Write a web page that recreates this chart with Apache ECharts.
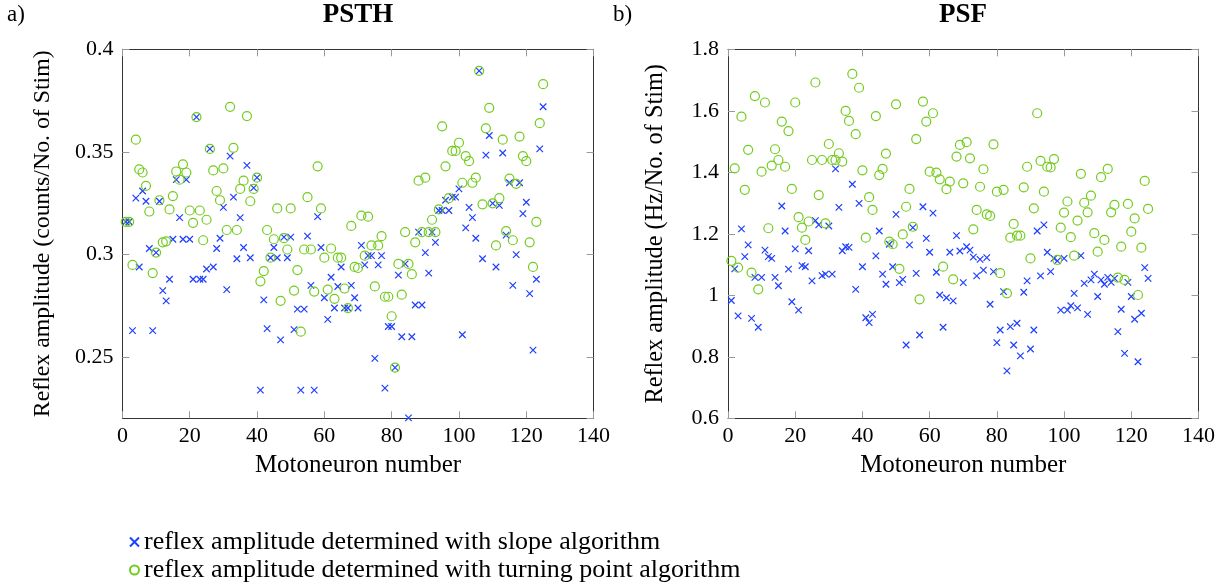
<!DOCTYPE html>
<html>
<head>
<meta charset="utf-8">
<script src="https://cdn.jsdelivr.net/npm/echarts@6/dist/echarts.min.js"></script>
<style>
html,body{margin:0;padding:0;background:#fff;}
#chart{width:1227px;height:587px;}
</style>
</head>
<body>
<div id="chart"></div>
<script>
// ---- data (motoneuron 1..125) ----
const neuronCount = 125;
const xTickValues = [0, 20, 40, 60, 80, 100, 120, 140];
const psthTicks = [0.25, 0.3, 0.35, 0.4];
const psfTicks = [0.6, 0.8, 1, 1.2, 1.4, 1.6, 1.8];

const psthSlope = [0.316,0.316,0.263,0.3275,0.294,0.331,0.326,0.303,0.263,0.301,
0.326,0.2825,0.2775,0.288,0.3075,0.3365,0.318,0.3075,0.3365,0.3075,
0.288,0.367,0.288,0.288,0.293,0.3515,0.294,0.303,0.308,0.323,
0.283,0.348,0.328,0.298,0.318,0.3035,0.3435,0.2985,0.3325,0.3375,
0.234,0.278,0.264,0.2985,0.3035,0.2985,0.2585,0.3085,0.2985,0.3085,
0.2635,0.2735,0.234,0.2735,0.309,0.285,0.234,0.3185,0.3035,0.279,
0.2685,0.289,0.274,0.2845,0.294,0.274,0.274,0.285,0.279,0.274,
0.3045,0.295,0.2995,0.2995,0.2495,0.295,0.2995,0.235,0.265,0.265,
0.245,0.290,0.260,0.2955,0.2205,0.260,0.2755,0.311,0.2755,0.301,
0.291,0.311,0.306,0.3215,0.3215,0.3265,0.3215,0.328,0.328,0.332,
0.261,0.313,0.323,0.318,0.308,0.3895,0.298,0.3485,0.358,0.325,
0.294,0.324,0.3495,0.3095,0.335,0.285,0.300,0.335,0.320,0.3255,
0.281,0.2535,0.288,0.3515,0.372];

const psthTurning = [0.316,0.316,0.295,0.356,0.3415,0.340,0.3335,0.321,0.291,0.301,
0.3265,0.306,0.3065,0.322,0.3285,0.3405,0.3365,0.344,0.340,0.3215,
0.3155,0.367,0.3215,0.307,0.317,0.3515,0.341,0.331,0.3265,0.342,
0.312,0.372,0.352,0.312,0.332,0.336,0.3675,0.326,0.332,0.3375,
0.287,0.292,0.312,0.2985,0.3075,0.3225,0.2775,0.308,0.3025,0.3225,
0.2825,0.2925,0.2625,0.3025,0.328,0.3025,0.282,0.343,0.3225,0.2985,
0.283,0.303,0.2785,0.2985,0.2985,0.2835,0.274,0.314,0.294,0.2935,
0.319,0.2995,0.3185,0.3045,0.2845,0.3045,0.309,0.2795,0.2795,0.270,
0.245,0.2955,0.2805,0.311,0.2955,0.2905,0.306,0.336,0.311,0.3375,
0.311,0.317,0.311,0.322,0.3625,0.343,0.3275,0.3505,0.3505,0.3545,
0.335,0.348,0.3455,0.335,0.3375,0.3895,0.3245,0.3615,0.3715,0.325,
0.3045,0.3275,0.356,0.3115,0.337,0.307,0.3345,0.3575,0.348,0.3455,
0.306,0.294,0.316,0.364,0.383];

const psfSlope = [0.983,1.086,0.933,1.216,1.126,1.164,0.925,1.0585,0.896,1.0585,
1.147,1.126,1.120,1.0585,1.031,1.2905,1.209,1.085,0.979,1.151,
0.952,1.0965,1.093,1.145,1.047,1.243,1.229,1.064,1.069,1.2255,
1.069,1.411,1.286,1.145,1.158,1.156,1.361,1.0195,1.299,1.093,
0.927,0.911,0.938,1.128,1.209,1.069,1.036,1.166,1.093,1.263,
1.041,1.052,0.8385,1.164,1.220,1.0715,0.871,1.288,1.185,1.140,
1.267,1.075,1.001,0.896,0.992,1.140,0.982,1.194,1.144,1.041,
1.158,1.147,1.124,1.063,1.117,1.082,1.1225,0.971,1.077,0.846,
0.887,1.012,0.754,0.898,0.8385,0.909,0.803,1.010,1.047,0.8255,
0.887,1.209,1.063,1.229,1.140,1.077,1.120,1.112,0.952,1.120,
0.952,0.966,1.0065,0.959,1.129,1.039,0.938,1.050,1.069,0.996,
1.050,1.036,1.0585,1.042,1.055,0.882,0.9545,0.811,1.042,0.996,
0.922,0.784,0.9415,1.090,1.055];

const psfTurning = [1.112,1.413,1.090,1.581,1.343,1.473,1.074,1.648,1.0195,1.402,
1.627,1.218,1.422,1.475,1.440,1.565,1.418,1.534,1.346,1.627,
1.254,1.220,1.180,1.240,1.440,1.692,1.326,1.440,1.234,1.492,
1.440,1.440,1.462,1.435,1.5995,1.567,1.720,1.524,1.675,1.4065,
1.1875,1.319,1.2775,1.583,1.391,1.411,1.461,1.1745,1.166,1.621,
1.086,1.198,1.288,1.346,1.223,1.508,0.987,1.630,1.565,1.402,
1.592,1.399,1.377,1.093,1.345,1.370,1.052,1.451,1.489,1.364,
1.498,1.4455,1.2146,1.2775,1.353,1.410,1.263,1.258,1.491,1.337,
1.072,1.343,1.0065,1.1875,1.232,1.194,1.194,1.351,1.418,1.120,
1.283,1.592,1.437,1.337,1.418,1.416,1.443,1.115,1.220,1.269,
1.305,1.189,1.129,1.243,1.395,1.301,1.270,1.324,1.202,1.142,
1.384,1.180,1.411,1.270,1.294,1.0575,1.158,1.050,1.297,1.207,
1.250,1.001,1.155,1.372,1.281];

const seriesNames = ['reflex amplitude determined with slope algorithm',
                     'reflex amplitude determined with turning point algorithm'];
const panelTitles = ['PSTH', 'PSF'];
const panelLetters = ['a)', 'b)'];
const yNames = ['Reflex amplitude (counts/No. of Stim)', 'Reflex amplitude (Hz/No. of Stim)'];
const xName = 'Motoneuron number';

// ---- build ----
const neurons = [];
for (let i = 1; i <= neuronCount; i++) neurons.push(i);
const zip = (ys) => ys.map((y, i) => [neurons[i], y]);

const FONT = 'Liberation Serif';
const BLUE = '#1f3fff';
const GREEN = '#72cc1e';
const AXIS = '#333';
const TICK = '#9a9a9a';
const crossPath = 'path://M0,0L10,10M10,0L0,10';

const grids = [
  {left: 122.4, top: 49.3, width: 471.2, height: 369},
  {left: 728, top: 49.3, width: 470.5, height: 369}
];

function xAx(gi, pos) {
  const main = pos === 'bottom';
  return {
    type: 'value', gridIndex: gi, position: pos, min: 0, max: 140, interval: 20,
    name: main ? xName : '', nameLocation: 'middle', nameGap: 35,
    nameTextStyle: {fontFamily: FONT, fontSize: 25, color: '#000'},
    axisLine: {show: true, onZero: false, lineStyle: {color: AXIS, width: 1}},
    axisTick: {show: true, inside: true, length: 7, lineStyle: {color: TICK, width: 1}},
    axisLabel: {show: main, fontFamily: FONT, fontSize: 22, color: '#000', margin: 7},
    splitLine: {show: false}
  };
}
function yAx(gi, pos, cfg) {
  const main = pos === 'left';
  return Object.assign({
    type: 'value', gridIndex: gi, position: pos,
    name: main ? yNames[gi] : '', nameLocation: 'middle', nameGap: gi === 0 ? 68 : 60,
    nameTextStyle: {fontFamily: FONT, fontSize: gi === 0 ? 23.8 : 24.3, color: '#000'},
    axisLine: {show: true, onZero: false, lineStyle: {color: AXIS, width: 1}},
    axisTick: {show: true, inside: true, length: 7, lineStyle: {color: TICK, width: 1}},
    axisLabel: {show: main, fontFamily: FONT, fontSize: 22, color: '#000', margin: 9, showMinLabel: gi === 1},
    splitLine: {show: false}
  }, cfg);
}
const psthRange = {min: 0.2203, max: 0.4, splitNumber: 4};
const psfRange = {min: 0.6, max: 1.8, interval: 0.2};

function slopeSeries(xi, yi, ys) {
  return {
    name: seriesNames[0], type: 'scatter', xAxisIndex: xi, yAxisIndex: yi, data: zip(ys),
    symbol: crossPath, symbolSize: 6.5, z: 2,
    itemStyle: {color: BLUE, borderColor: BLUE, borderWidth: 1.2, opacity: 1}
  };
}
function turnSeries(xi, yi, ys) {
  return {
    name: seriesNames[1], type: 'scatter', xAxisIndex: xi, yAxisIndex: yi, data: zip(ys),
    symbol: 'circle', symbolSize: 9, z: 3,
    itemStyle: {color: 'rgba(0,0,0,0)', borderColor: GREEN, borderWidth: 1.2, opacity: 1}
  };
}

const option = {
  backgroundColor: '#fff',
  animation: false,
  grid: grids,
  xAxis: [xAx(0, 'bottom'), xAx(0, 'top'), xAx(1, 'bottom'), xAx(1, 'top')],
  yAxis: [yAx(0, 'left', psthRange), yAx(0, 'right', psthRange),
          yAx(1, 'left', psfRange), yAx(1, 'right', psfRange)],
  legend: {
    orient: 'vertical', left: 129, top: 529, itemGap: 2, itemWidth: 9, itemHeight: 9,
    padding: 0, data: seriesNames,
    textStyle: {fontFamily: FONT, fontSize: 26, color: '#000', lineHeight: 26}
  },
  graphic: [
    {type: 'text', x: 358, y: 15, style: {text: panelTitles[0], font: 'bold 27px "Liberation Serif"', fill: '#000', textAlign: 'center', textVerticalAlign: 'middle'}},
    {type: 'text', x: 963, y: 15, style: {text: panelTitles[1], font: 'bold 27px "Liberation Serif"', fill: '#000', textAlign: 'center', textVerticalAlign: 'middle'}},
    {type: 'text', x: 7, y: 15, style: {text: panelLetters[0], font: '23px "Liberation Serif"', fill: '#000', textAlign: 'left', textVerticalAlign: 'middle'}},
    {type: 'text', x: 613, y: 15, style: {text: panelLetters[1], font: '23px "Liberation Serif"', fill: '#000', textAlign: 'left', textVerticalAlign: 'middle'}}
  ],
  series: [
    slopeSeries(0, 0, psthSlope), turnSeries(0, 0, psthTurning),
    slopeSeries(2, 2, psfSlope), turnSeries(2, 2, psfTurning)
  ]
};

const chart = echarts.init(document.getElementById('chart'), null, {renderer: 'canvas'});
chart.setOption(option);
</script>
</body>
</html>
